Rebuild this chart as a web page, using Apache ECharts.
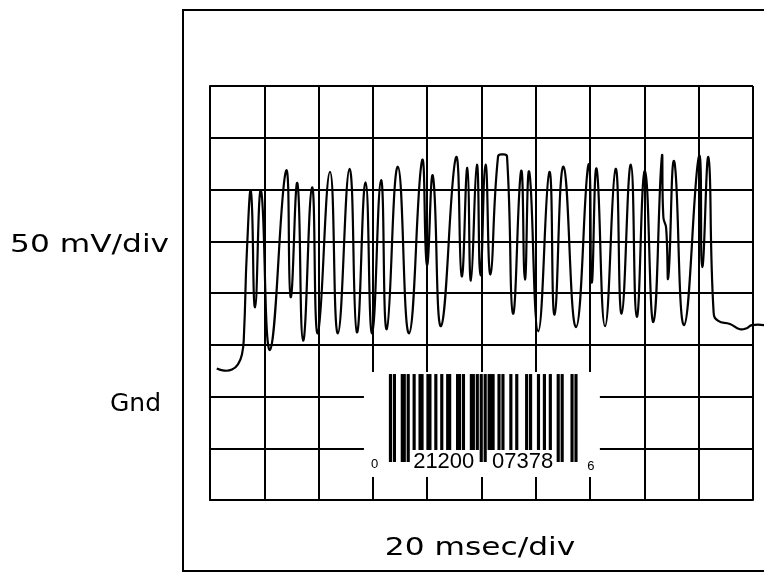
<!DOCTYPE html>
<html>
<head>
<meta charset="utf-8">
<script src="https://cdn.jsdelivr.net/npm/echarts@6/dist/echarts.min.js"></script>
<style>
  html, body { margin: 0; padding: 0; background: #fff; }
  #scope { width: 764px; height: 578px; }
</style>
</head>
<body>
<div id="scope"></div>
<script>
  // trace: time in ms, signal in mV
  var timeMs = [2.5, 5.2, 8.1, 10.3, 11.8, 12.5, 13.6, 15.1, 16.6, 18.8,
    22.1, 28.0, 29.7, 32.2, 34.3, 37.6, 39.7, 44.2, 47.1, 51.4,
    54.1, 57.3, 59.7, 63.0, 65.1, 69.2, 73.3, 78.1, 79.9, 82.1,
    85.1, 90.6, 92.7, 94.8, 96.1, 98.3, 99.6, 101.5, 103.3, 106.1,
    107.9, 109.4, 111.6, 114.6, 116.0, 117.6, 120.9, 125.0, 126.9, 130.2,
    134.8, 139.4, 140.6, 142.4, 145.5, 149.4, 151.6, 155.0, 157.2, 160.2,
    163.3, 166.4, 167.0, 168.0, 168.8, 171.0, 174.6, 180.1, 181.3, 183.6,
    185.5, 187.2, 191.5, 195.2, 197.7, 199.6, 204.1];
  var signalMv = [27, 25, 26, 31, 41, 59, 141, 198, 86, 199,
    45, 218, 96, 206, 54, 202, 61, 217, 61, 220,
    62, 207, 61, 209, 65, 222, 61, 228, 127, 213,
    68, 231, 116, 221, 112, 224, 117, 224, 118, 232,
    234, 232, 80, 218, 113, 217, 63, 217, 79, 222,
    67, 224, 110, 220, 68, 220, 80, 224, 77, 218,
    72, 231, 173, 163, 115, 227, 69, 232, 125, 231,
    81, 73, 70, 65, 66, 69, 69];

  // 20 msec/div and 50 mV/div, ground two divisions up
  var xTicks = [0, 20, 40, 60, 80, 100, 120, 140, 160, 180, 200];
  var yTicks = [-100, -50, 0, 50, 100, 150, 200, 250, 300];

  // the UPC-A label that was scanned
  var upcDigits = [0, 2, 1, 2, 0, 0, 0, 7, 3, 7, 8, 6];
  var upcLeftCodes = ['0001101', '0011001', '0010011', '0111101', '0100011',
    '0110001', '0101111', '0111011', '0110111', '0001011'];

  // where the label sits on the screen (ms / mV)
  var barStart = 66.1, moduleMs = 0.727, inkSpread = 0.6;
  var barTop = 21.7, shortBottom = -51.7, longBottom = -63.3;
  var patch = [56.7, 143.6, 23.7, -77.8];

  function upcModules(d) {
    var s = '101', i;
    for (i = 0; i < 6; i++) s += upcLeftCodes[d[i]];
    s += '01010';
    for (i = 6; i < 12; i++) s += upcLeftCodes[d[i]].replace(/./g, function (c) { return c == '1' ? '0' : '1'; });
    return s + '101';
  }

  var modules = upcModules(upcDigits);
  var bars = [];
  for (var m = 0; m < modules.length; m++) {
    if (modules[m] == '1' && (m == 0 || modules[m - 1] == '0')) {
      var e = m;
      while (e + 1 < modules.length && modules[e + 1] == '1') e++;
      var isLong = m < 10 || (m >= 45 && m < 50) || m >= 85;
      bars.push([barStart + m * moduleMs, barStart + (e + 1) * moduleMs, isLong ? 1 : 0]);
    }
  }

  var labels = [
    [barStart - 7.5 * moduleMs, -66, String(upcDigits[0]), 13],
    [barStart + 27.5 * moduleMs, -63, upcDigits.slice(1, 6).join(''), 22],
    [barStart + 67.5 * moduleMs, -63, upcDigits.slice(6, 11).join(''), 22],
    [barStart + 102 * moduleMs, -68, String(upcDigits[11]), 13]
  ];

  var trace = timeMs.map(function (t, i) { return [t, signalMv[i]]; });

  var myChart = echarts.init(document.getElementById('scope'));
  var lineBlack = { color: '#000', width: 2 };
  var labelFont = '25px "DejaVu Sans"';
  var option = {
    animation: false,
    backgroundColor: '#fff',
    grid: { left: 210, top: 86, width: 543, height: 414 },
    xAxis: {
      type: 'value', min: xTicks[0], max: xTicks[xTicks.length - 1], interval: xTicks[1] - xTicks[0],
      axisLine: { show: true, onZero: false, lineStyle: lineBlack },
      axisTick: { show: false }, axisLabel: { show: false },
      splitLine: { show: true, lineStyle: { color: '#000', width: 2 } }
    },
    yAxis: {
      type: 'value', min: yTicks[0], max: yTicks[yTicks.length - 1], interval: yTicks[1] - yTicks[0],
      axisLine: { show: true, lineStyle: lineBlack },
      axisTick: { show: false }, axisLabel: { show: false },
      splitLine: { show: true, lineStyle: { color: '#000', width: 2 } }
    },
    graphic: [
      { type: 'rect', shape: { x: 183, y: 10, width: 640, height: 561 },
        style: { fill: 'none', stroke: '#000', lineWidth: 2 } },
      { type: 'text', x: 10, y: 245, scaleX: 1.25,
        style: { text: '50 mV/div', font: labelFont, fill: '#000', textVerticalAlign: 'middle' } },
      { type: 'text', x: 110, y: 404,
        style: { text: 'Gnd', font: labelFont, fill: '#000', textVerticalAlign: 'middle' } },
      { type: 'text', x: 480, y: 548, scaleX: 1.25,
        style: { text: '20 msec/div', font: labelFont, fill: '#000', textAlign: 'center', textVerticalAlign: 'middle' } }
    ],
    series: [
      {
        type: 'custom', z: 3, silent: true,
        data: [patch],
        renderItem: function (params, api) {
          var a = api.coord([api.value(0), api.value(2)]);
          var b = api.coord([api.value(1), api.value(3)]);
          return { type: 'rect', shape: { x: a[0], y: a[1], width: b[0] - a[0], height: b[1] - a[1] },
            style: { fill: '#fff' } };
        }
      },
      {
        type: 'custom', z: 4, silent: true,
        data: bars,
        renderItem: function (params, api) {
          var a = api.coord([api.value(0), barTop]);
          var b = api.coord([api.value(1), api.value(2) ? longBottom : shortBottom]);
          var modPx = (b[0] - a[0]) / ((api.value(1) - api.value(0)) / moduleMs);
          return { type: 'rect', shape: { x: a[0] - inkSpread * modPx / 2, y: a[1], width: b[0] - a[0] + inkSpread * modPx, height: b[1] - a[1] },
            style: { fill: '#000' } };
        }
      },
      {
        type: 'custom', z: 4, silent: true,
        data: labels,
        renderItem: function (params, api) {
          var p = api.coord([api.value(0), api.value(1)]);
          return { type: 'text', x: p[0], y: p[1],
            style: { text: labels[params.dataIndex][2], fill: '#000',
              font: labels[params.dataIndex][3] + 'px "Liberation Sans"',
              textAlign: 'center', textVerticalAlign: 'middle' } };
        }
      },
      {
        // whole trace as one smoothed path so the tail can run past the last division
        type: 'custom', z: 5, silent: true,
        data: trace,
        renderItem: function (params, api) {
          if (params.dataIndex !== 0) return null;
          var pts = trace.map(function (p) { return api.coord(p); });
          return { type: 'polyline', shape: { points: pts, smooth: 0.5 },
            style: { stroke: '#000', lineWidth: 2.2, fill: null } };
        }
      }
    ]
  };
  myChart.setOption(option);
</script>
</body>
</html>
